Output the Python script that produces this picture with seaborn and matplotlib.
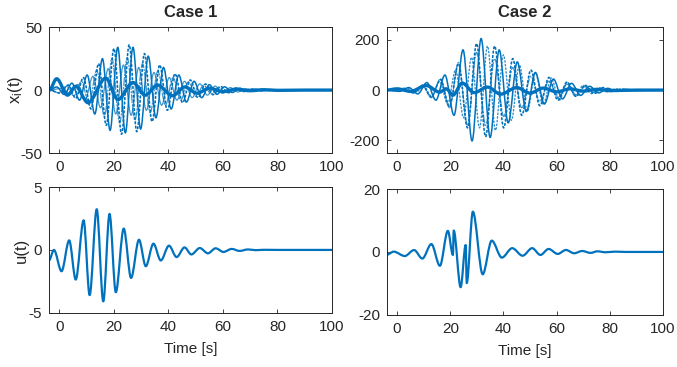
import matplotlib
matplotlib.use("Agg")
import matplotlib.pyplot as plt
from matplotlib.path import Path
from matplotlib.patches import PathPatch
import seaborn as sns

# ---- Case 1, state trajectories x_i(t): turning points ----
c1_a_t = [-3.7, -1.0, 1.8, 4.6, 7.4, 10.2, 13.0, 15.8, 18.6, 21.4, 24.2, 27.0, 29.8, 32.6, 35.4, 38.2,
          41.0, 43.8, 46.6, 49.4, 52.2, 55.0, 57.8, 60.6, 63.4, 66.2, 69.0, 71.8, 74.6, 77.4, 80.2, 86, 100]
c1_a_v = [0, 2.5, -3.5, 5.5, -8, 12, -19, 25, -32, 34, -34, 34, -31, 27, -22, 18,
          -15, 12, -9.5, 7, -6, 4.3, -3.3, 2.6, -1.9, 1.4, -1.0, 0.8, -0.5, 0.4, -0.2, 0.1, 0]

c1_b_t = [-3.7, 0.4, 3.2, 6.0, 8.8, 11.6, 14.4, 17.2, 20.0, 22.8, 25.6, 28.4, 31.2, 34.0, 36.8, 39.6,
          42.4, 45.2, 48.0, 50.8, 53.6, 56.4, 59.2, 62.0, 64.8, 67.6, 70.4, 73.2, 76.0, 78.8, 84, 100]
c1_b_v = [0, -2.5, 4, -6.5, 10, -15, 21, -28, 33, -35, 36, -33, 29, -25, 20, -16,
          13, -10, 8, -6, 4.8, -3.6, 2.8, -2.1, 1.6, -1.1, 0.9, -0.6, 0.4, -0.3, 0.1, 0]

c1_c_t = [-3.7, -0.3, 2.5, 5.3, 8.1, 10.9, 13.7, 16.5, 19.3, 22.1, 24.9, 27.7, 30.5, 33.3, 36.1, 38.9,
          41.7, 44.5, 47.3, 50.1, 52.9, 55.7, 58.5, 61.3, 64.1, 66.9, 69.7, 72.5, 75.3, 78.1, 82, 100]
c1_c_v = [0, -2, 3, -4.5, 7, -11, 16, -21, 25, -26, 26, -24, 21, -18, 15, -12,
          10, -8, 6.5, -5, 4, -3, 2.4, -1.8, 1.4, -1, 0.8, -0.5, 0.4, -0.3, 0.1, 0]

c1_d_t = [-3.7, 1.1, 3.9, 6.7, 9.5, 12.3, 15.1, 17.9, 20.7, 23.5, 26.3, 29.1, 31.9, 34.7, 37.5, 40.3,
          43.1, 45.9, 48.7, 51.5, 54.3, 57.1, 59.9, 62.7, 65.5, 68.3, 71.1, 73.9, 76.7, 80, 100]
c1_d_v = [0, 1.5, -3, 4.5, -7, 11, -14, 17, -19, 20, -20, 18, -16, 14, -12, 10,
          -8, 7, -6, 5, -4, 3.2, -2.5, 2, -1.5, 1.1, -0.8, 0.6, -0.4, 0.2, 0]

c1_thick_t = [-3.7, -1.0, 3.0, 6.0, 10.5, 17.0, 21.5, 27.0, 31.5, 36.0, 41.5, 46.0, 50.5, 55.0,
              60, 65, 70, 75, 80, 90, 100]
c1_thick_v = [0, 9, -4, 3, -10, 9.5, -7.5, 6, -4, 4, -4.5, 2.5, -2.5, 1.5,
              -1.2, 0.8, -0.5, 0.3, -0.2, 0, 0]

# ---- Case 2, state trajectories x_i(t) ----
c2_a_t = [-4, 1.0, 4.4, 7.8, 11.2, 14.6, 18.0, 21.4, 24.8, 28.2, 31.6, 35.0, 38.4, 41.8, 45.2, 48.6,
          52.0, 55.4, 58.8, 62.2, 65.6, 69.0, 72.4, 75.8, 79.2, 82.6, 86, 90, 100]
c2_a_v = [0, -5, 10, -15, 30, -40, 60, -100, 160, -202, 205, -188, 160, -130, 112, -85,
          70, -55, 44, -35, 27, -21, 15, -11, 7, -5, 3, -1, 0]

c2_b_t = [-4, 2.7, 6.1, 9.5, 12.9, 16.3, 19.7, 23.1, 26.5, 29.9, 33.3, 36.7, 40.1, 43.5, 46.9, 50.3,
          53.7, 57.1, 60.5, 63.9, 67.3, 70.7, 74.1, 77.5, 80.9, 84.3, 88, 100]
c2_b_v = [0, 5, -10, 18, -28, 42, -65, 105, -150, 185, -185, 175, -150, 125, -100, 80,
          -62, 50, -40, 32, -25, 19, -14, 10, -6, 4, -2, 0]

c2_c_t = [-4, -0.7, 2.7, 6.1, 9.5, 12.9, 16.3, 19.7, 23.1, 26.5, 29.9, 33.3, 36.7, 40.1, 43.5, 46.9,
          50.3, 53.7, 57.1, 60.5, 63.9, 67.3, 70.7, 74.1, 77.5, 80.9, 85, 100]
c2_c_v = [0, -4, 8, -12, 20, -30, 45, -70, 110, -140, 150, -140, 125, -105, 90, -70,
          55, -45, 36, -29, 23, -18, 13, -9, 6, -4, 2, 0]

c2_d_t = [-4, 1, 4, 7, 10, 13, 16, 19, 22, 25, 28, 31, 34, 37, 40, 43, 46, 49, 52, 55, 58,
          61, 64, 67, 70, 73, 76, 79, 82, 86, 100]
c2_d_v = [0, -3, 6, -9, 15, -25, 35, -55, 80, -110, 130, -150, 175, -160, 140, -120, 100, -85, 70, -58, 48,
          -40, 32, -25, 19, -14, 10, -7, 5, -2, 0]

c2_thick_t = [-4, 0, 5, 11, 16, 18.5, 21, 24.5, 29, 34, 39, 45, 50, 55, 60, 65, 70, 75, 80, 90, 100]
c2_thick_v = [0, 5, -5, 18, -8, 5, -20, 28, -10, 12, -16, 10, -12, 8, -7, 5, -4, 3, -2, 0, 0]

# ---- control inputs u(t): turning points ----
c1_u_t = [-3.8, -2.0, 0.8, 3.6, 6.0, 8.9, 11.1, 13.7, 16.1, 18.4, 20.7, 23.6, 26.3, 29.2, 31.7,
          34.5, 37.2, 40.2, 43.0, 45.9, 48.4, 51.5, 54.5, 57.3, 60.2, 63.2, 66.1, 69.2, 72, 75, 80, 100]
c1_u_v = [-0.84, 0.0, -1.7, 0.76, -2.36, 2.36, -3.6, 3.24, -4.1, 2.87, -3.37, 1.7, -2.23, 0.81, -1.3,
          0.5, -0.84, 0.34, -0.57, 0.2, -0.36, 0.15, -0.27, 0.13, -0.16, 0.08, -0.08, 0.04, -0.02, 0.01, 0.0, 0.0]

c2_u_t = [-4.0, -1.25, 2.9, 6.4, 9.5, 12.9, 16.1, 19.1, 21.0, 21.3, 23.9, 25.8, 26.2, 28.5, 32.2,
          35.6, 39.4, 43.3, 47.2, 50.8, 53.9, 57.0, 60.4, 63.5, 66.6, 69.6, 72.8, 75.3, 78.4, 82, 86, 100]
c2_u_v = [-0.95, 0.1, -1.3, 0.6, -2.1, 2.5, -4.4, 6.7, -0.95, 6.8, -11.2, 2.2, -9.9, 12.8, -7.1,
          3.6, -1.8, 1.2, -1.2, 1.2, -0.95, 0.95, -0.63, 0.63, -0.42, 0.3, -0.3, 0.2, -0.1, 0.1, 0.0, 0.0]

BLUE = "#0072BD"
XTICKS = [0, 20, 40, 60, 80, 100]


def smooth_curve(ax, t, v, ls="-", lw=1.0, alpha=1.0):
    # smooth cubic path through the turning points (flat tangent at each point)
    verts = [(t[0], v[0])]
    codes = [Path.MOVETO]
    for i in range(1, len(t)):
        d = (t[i] - t[i - 1]) / 3.0
        verts += [(t[i - 1] + d, v[i - 1]), (t[i] - d, v[i]), (t[i], v[i])]
        codes += [Path.CURVE4] * 3
    ax.add_patch(PathPatch(Path(verts, codes), fill=False, edgecolor=BLUE, linewidth=lw,
                           linestyle=ls, alpha=alpha, capstyle="round", joinstyle="round"))


def style_axes(ax, ylim, yticks):
    ax.set_xlim(-3.8, 100)
    ax.set_ylim(*ylim)
    ax.set_xticks(XTICKS)
    ax.set_yticks(yticks)
    ax.tick_params(direction="in", top=True, right=True, length=3, width=0.6,
                   labelsize=11, colors="#262626", pad=5)
    for sp in ax.spines.values():
        sp.set_visible(True)
        sp.set_linewidth(0.7)
        sp.set_color("#262626")


sns.set_style("ticks")
plt.rcParams["font.family"] = ["Liberation Sans", "DejaVu Sans"]
plt.rcParams["axes.unicode_minus"] = False
plt.rcParams["mathtext.fontset"] = "custom"
plt.rcParams["mathtext.rm"] = "Liberation Sans"
plt.rcParams["mathtext.it"] = "Liberation Sans"

fig = plt.figure(figsize=(6.77, 3.67), dpi=100)
ax1 = fig.add_axes([0.0724, 0.583, 0.418, 0.343])
ax2 = fig.add_axes([0.5716, 0.583, 0.4077, 0.343])
ax3 = fig.add_axes([0.0724, 0.148, 0.418, 0.342])
ax4 = fig.add_axes([0.5716, 0.142, 0.4077, 0.343])

for t, v, ls, lw, alpha in [
    (c1_c_t, c1_c_v, "-.", 0.9, 0.75),
    (c1_d_t, c1_d_v, "-", 0.9, 0.75),
    (c1_b_t, c1_b_v, ":", 1.2, 1.0),
    (c1_a_t, c1_a_v, "-", 1.1, 1.0),
    (c1_thick_t, c1_thick_v, "-", 2.4, 1.0),
]:
    smooth_curve(ax1, t, v, ls, lw, alpha)

for t, v, ls, lw, alpha in [
    (c2_d_t, c2_d_v, ":", 1.0, 0.8),
    (c2_c_t, c2_c_v, "-.", 0.9, 0.75),
    (c2_b_t, c2_b_v, ":", 1.2, 1.0),
    (c2_a_t, c2_a_v, "-", 1.1, 1.0),
    (c2_thick_t, c2_thick_v, "-", 2.4, 1.0),
]:
    smooth_curve(ax2, t, v, ls, lw, alpha)

smooth_curve(ax3, c1_u_t, c1_u_v, "-", 1.6)
smooth_curve(ax4, c2_u_t, c2_u_v, "-", 1.6)

style_axes(ax1, (-50, 50), [-50, 0, 50])
style_axes(ax2, (-250, 250), [-200, 0, 200])
style_axes(ax3, (-5, 5), [-5, 0, 5])
style_axes(ax4, (-20, 20), [-20, 0, 20])

ax1.set_title("Case 1", fontsize=12, fontweight="bold", pad=7)
ax2.set_title("Case 2", fontsize=12, fontweight="bold", pad=7)
ax1.set_ylabel("x$_\\mathregular{i}$(t)", fontsize=12, color="#262626")
ax1.yaxis.set_label_coords(-0.085, 0.5)
ax3.set_ylabel("u(t)", fontsize=12, color="#262626")
ax3.yaxis.set_label_coords(-0.07, 0.5)
ax3.set_xlabel("Time [s]", fontsize=11, color="#262626", labelpad=6)
ax4.set_xlabel("Time [s]", fontsize=11, color="#262626", labelpad=6)

fig.savefig("out.png", dpi=100, facecolor="white")
